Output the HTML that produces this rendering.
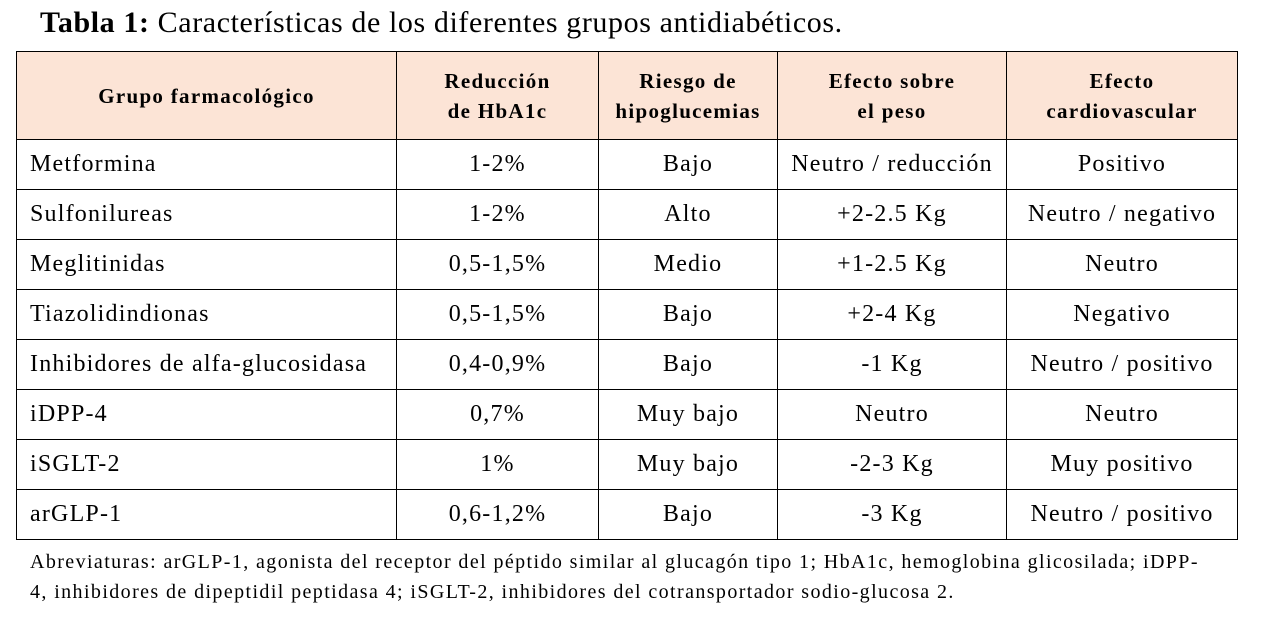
<!DOCTYPE html>
<html><head><meta charset="utf-8"><style>
body{margin:0;width:1262px;height:621px;background:#fff;font-family:"Liberation Serif",serif;color:#000;position:relative;overflow:hidden}
.title{position:absolute;left:40px;top:6px;font-size:30px;letter-spacing:0.6px;white-space:nowrap}
table{position:absolute;left:16px;top:51px;border-collapse:collapse;table-layout:fixed}
td,th{border:1.5px solid #000;padding:0;font-size:24px;letter-spacing:1.2px;text-align:center;height:49px}
th{background:#fce4d6;font-size:21px;letter-spacing:1.3px;font-weight:bold;height:87px;line-height:30px}
td.l{text-align:left;padding-left:13px}
.foot{position:absolute;left:30px;top:547px;font-size:20px;letter-spacing:1.4px;line-height:30px;width:1220px;white-space:nowrap}
</style></head><body>
<div class="title"><b>Tabla 1:</b> Características de los diferentes grupos antidiabéticos.</div>
<table>
<colgroup><col style="width:380px"><col style="width:202px"><col style="width:179px"><col style="width:229px"><col style="width:231px"></colgroup>
<tr><th>Grupo farmacológico</th><th>Reducción<br>de HbA1c</th><th>Riesgo de<br>hipoglucemias</th><th>Efecto sobre<br>el peso</th><th>Efecto<br>cardiovascular</th></tr>
<tr><td class="l">Metformina</td><td>1-2%</td><td>Bajo</td><td>Neutro / reducción</td><td>Positivo</td></tr>
<tr><td class="l">Sulfonilureas</td><td>1-2%</td><td>Alto</td><td>+2-2.5 Kg</td><td>Neutro / negativo</td></tr>
<tr><td class="l">Meglitinidas</td><td>0,5-1,5%</td><td>Medio</td><td>+1-2.5 Kg</td><td>Neutro</td></tr>
<tr><td class="l">Tiazolidindionas</td><td>0,5-1,5%</td><td>Bajo</td><td>+2-4 Kg</td><td>Negativo</td></tr>
<tr><td class="l">Inhibidores de alfa-glucosidasa</td><td>0,4-0,9%</td><td>Bajo</td><td>-1 Kg</td><td>Neutro / positivo</td></tr>
<tr><td class="l">iDPP-4</td><td>0,7%</td><td>Muy bajo</td><td>Neutro</td><td>Neutro</td></tr>
<tr><td class="l">iSGLT-2</td><td>1%</td><td>Muy bajo</td><td>-2-3 Kg</td><td>Muy positivo</td></tr>
<tr><td class="l">arGLP-1</td><td>0,6-1,2%</td><td>Bajo</td><td>-3 Kg</td><td>Neutro / positivo</td></tr>
</table>
<div class="foot">Abreviaturas: arGLP-1, agonista del receptor del péptido similar al glucagón tipo 1; HbA1c, hemoglobina glicosilada; iDPP-<br>4, inhibidores de dipeptidil peptidasa 4; iSGLT-2, inhibidores del cotransportador sodio-glucosa 2.</div>
</body></html>
